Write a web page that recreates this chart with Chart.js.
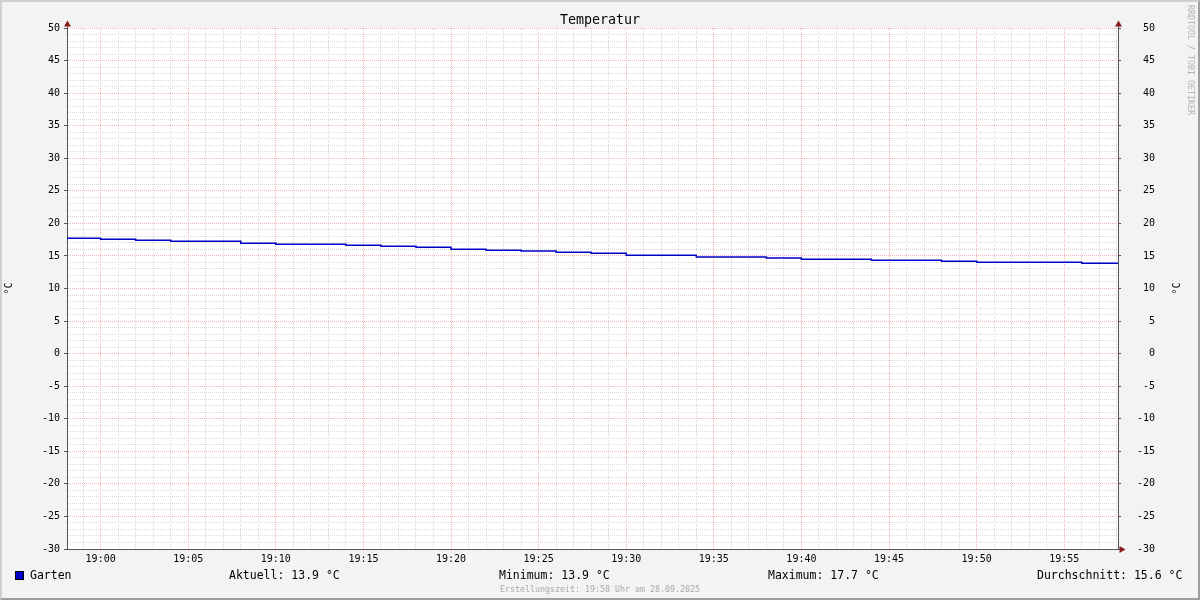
<!DOCTYPE html>
<html>
<head>
<meta charset="utf-8">
<script src="https://cdn.jsdelivr.net/npm/chart.js@4"></script>
<style>
  html, body { margin: 0; padding: 0; background: #f3f3f3; }
  #frame {
    width: 1200px; height: 600px; box-sizing: border-box;
    border-style: solid; border-width: 2px;
    border-color: #cfcfcf #9e9e9e #9e9e9e #cfcfcf;
    background: #f3f3f3;
  }
  canvas { display: block; }
</style>
</head>
<body>
<div id="frame"><canvas id="chart" width="1196" height="596"></canvas></div>
<script>
// minutes after 19:00, one reading every 2 minutes
const minutes = [-2, 0, 2, 4, 6, 8, 10, 12, 14, 16, 18, 20, 22, 24, 26, 28, 30,
                 32, 34, 36, 38, 40, 42, 44, 46, 48, 50, 52, 54, 56, 58, 60];
const temps = [17.71, 17.56, 17.40, 17.25, 17.25, 16.94, 16.78, 16.78, 16.63, 16.48, 16.33,
               16.02, 15.87, 15.76, 15.56, 15.41, 15.10, 15.10, 14.84, 14.84, 14.69,
               14.49, 14.49, 14.33, 14.33, 14.18, 14.02, 14.02, 14.02, 13.87, 13.87, 13.87];
const xTickLabels = ['19:00', '19:05', '19:10', '19:15', '19:20', '19:25',
                     '19:30', '19:35', '19:40', '19:45', '19:50', '19:55'];
const yTickLabels = [-30, -25, -20, -15, -10, -5, 0, 5, 10, 15, 20, 25, 30, 35, 40, 45, 50];
const seriesName = 'Garten';
const statTexts = ['Aktuell: 13.9 °C', 'Minimum: 13.9 °C', 'Maximum: 17.7 °C', 'Durchschnitt: 15.6 °C'];

const xMin = -1.92, xMax = 58.07;
const yMin = -30, yMax = 50;
const minorGrid = '#d9d9d9';
const majorGrid = '#f0b4b4';
const axisColor = '#555555';
const lineColor = '#0000c8';
const mono = '"DejaVu Sans Mono", monospace';

Chart.defaults.font.family = mono;
Chart.defaults.color = '#000';

const isMajor = c => c.tick && Math.round(c.tick.value) % 5 === 0;

function yTicks(s) {
  const t = [];
  for (let v = yMin; v <= yMax; v++) t.push({ value: v });
  s.ticks = t;
}

function tri(ctx, pts, color) {
  ctx.fillStyle = color;
  ctx.beginPath();
  ctx.moveTo(pts[0], pts[1]);
  ctx.lineTo(pts[2], pts[3]);
  ctx.lineTo(pts[4], pts[5]);
  ctx.closePath();
  ctx.fill();
}

const decor = {
  id: 'decor',
  beforeDraw(chart) {
    const { ctx, chartArea: a } = chart;
    ctx.save();
    ctx.fillStyle = '#ffffff';
    ctx.fillRect(a.left, a.top, a.right - a.left, a.bottom - a.top);
    ctx.restore();
  },
  afterDraw(chart) {
    const { ctx, chartArea: a } = chart;
    const l = Math.round(a.left) + 0.5, r = Math.round(a.right) + 0.5, b = Math.round(a.bottom) + 0.5;
    ctx.save();
    // axis stubs and arrows
    ctx.strokeStyle = axisColor;
    ctx.lineWidth = 1;
    ctx.beginPath();
    ctx.moveTo(l, a.top); ctx.lineTo(l, a.top - 4);
    ctx.moveTo(r, a.top); ctx.lineTo(r, a.top - 4);
    ctx.moveTo(a.right, b); ctx.lineTo(a.right + 4, b);
    ctx.stroke();
    const arrow = '#8b1c1c';
    tri(ctx, [l - 3.5, a.top - 1.5, l + 3.5, a.top - 1.5, l, a.top - 7.5], arrow);
    tri(ctx, [r - 3.5, a.top - 1.5, r + 3.5, a.top - 1.5, r, a.top - 7.5], arrow);
    tri(ctx, [a.right + 1.5, b - 3.5, a.right + 1.5, b + 3.5, a.right + 7.5, b], arrow);

    // right unit label
    ctx.save();
    ctx.translate(1175, (a.top + a.bottom) / 2);
    ctx.rotate(-Math.PI / 2);
    ctx.font = '10px ' + mono;
    ctx.fillStyle = '#000';
    ctx.textAlign = 'center';
    ctx.textBaseline = 'middle';
    ctx.fillText('°C', 0, 0);
    ctx.restore();

    // watermark
    ctx.save();
    ctx.translate(1188, 3);
    ctx.rotate(Math.PI / 2);
    ctx.font = '8.3px ' + mono;
    ctx.fillStyle = '#b4b4b4';
    ctx.textAlign = 'left';
    ctx.textBaseline = 'middle';
    ctx.fillText('RRDTOOL / TOBI OETIKER', 0, 0);
    ctx.restore();

    // legend row
    ctx.fillStyle = lineColor;
    ctx.fillRect(13, 569, 9, 9);
    ctx.strokeStyle = '#000';
    ctx.strokeRect(13.5, 569.5, 8, 8);
    ctx.font = '11.5px ' + mono;
    ctx.fillStyle = '#000';
    ctx.textAlign = 'left';
    ctx.textBaseline = 'middle';
    ctx.fillText(seriesName, 28, 574);
    const statX = [227, 497, 766, 1035];
    statTexts.forEach((s, i) => ctx.fillText(s, statX[i], 574));

    // footer
    ctx.font = '8.3px ' + mono;
    ctx.fillStyle = '#a8a8a8';
    ctx.textAlign = 'center';
    ctx.fillText('Erstellungszeit: 19:58 Uhr am 28.09.2025', 598, 588);
    ctx.restore();
  }
};

new Chart(document.getElementById('chart'), {
  type: 'line',
  data: {
    datasets: [{
      label: seriesName,
      data: minutes.map((m, i) => ({ x: m, y: temps[i] })),
      borderColor: lineColor,
      borderWidth: 1.5,
      pointRadius: 0,
      stepped: true,
      fill: false,
      yAxisID: 'y'
    }]
  },
  options: {
    responsive: false,
    animation: false,
    layout: { padding: 0 },
    plugins: {
      legend: { display: false },
      tooltip: { enabled: false },
      title: {
        display: true,
        text: 'Temperatur',
        color: '#000',
        font: { size: 13.3, weight: 'normal', lineHeight: 1 },
        padding: { top: 12.3, bottom: 0.4 }
      }
    },
    scales: {
      x: {
        type: 'linear',
        min: xMin,
        max: xMax,
        afterBuildTicks: s => {
          const t = [];
          for (let m = Math.ceil(xMin); m <= xMax; m++) t.push({ value: m });
          s.ticks = t;
        },
        afterFit: s => { s.height = 49; },
        ticks: {
          autoSkip: false, maxRotation: 0, padding: 1, font: { size: 10 },
          callback: v => (v >= 0 && v % 5 === 0 ? xTickLabels[v / 5] : '')
        },
        grid: {
          color: c => (isMajor(c) ? majorGrid : minorGrid),
          tickLength: 3,
          tickColor: 'transparent'
        },
        border: { color: axisColor, dash: [1, 1] }
      },
      y: {
        position: 'left',
        min: yMin,
        max: yMax,
        afterBuildTicks: yTicks,
        afterFit: s => { s.width = 65; },
        ticks: {
          autoSkip: false, padding: 4, font: { size: 10 },
          callback: v => (yTickLabels.includes(v) ? String(v) : '')
        },
        grid: {
          color: c => (isMajor(c) ? majorGrid : minorGrid),
          tickLength: 3,
          tickColor: c => (isMajor(c) ? axisColor : 'transparent')
        },
        border: { color: axisColor, dash: [1, 1] },
        title: { display: true, text: '°C', color: '#000', font: { size: 10, lineHeight: 1 }, padding: { top: 2 } }
      },
      y2: {
        position: 'right',
        min: yMin,
        max: yMax,
        afterBuildTicks: yTicks,
        afterFit: s => {
          s.width = 80;
          // the large label padding must not push the plot area down
          s.paddingTop = 0;
          s.paddingBottom = 0;
        },
        ticks: {
          // mirrored + 'near' gives right-aligned labels at left + padding
          autoSkip: false, mirror: true, padding: 37, crossAlign: 'near', font: { size: 10 },
          callback: v => (yTickLabels.includes(v) ? String(v) : '')
        },
        grid: {
          drawOnChartArea: false,
          tickLength: 3,
          tickColor: c => (isMajor(c) ? axisColor : 'transparent')
        },
        border: { color: axisColor }
      }
    }
  },
  plugins: [decor]
});
</script>
</body>
</html>
